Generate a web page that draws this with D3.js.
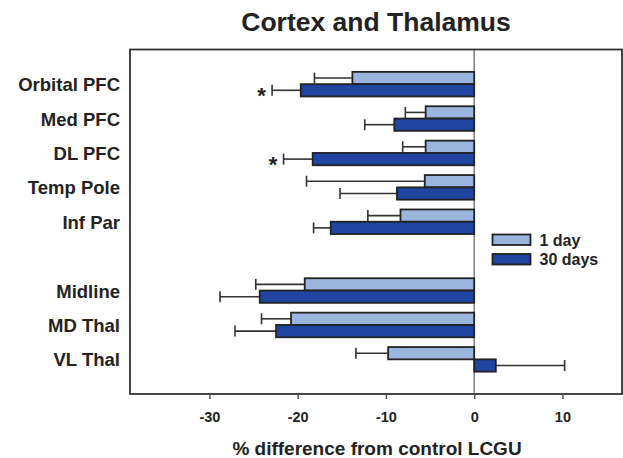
<!DOCTYPE html>
<html>
<head>
<meta charset="utf-8">
<script src="https://cdn.jsdelivr.net/npm/d3@7/dist/d3.min.js"></script>
<style>
  html, body { margin: 0; padding: 0; background: #fff; }
  svg { display: block; font-family: Arial, "Liberation Sans", Helvetica, sans-serif; }
</style>
</head>
<body>
<svg id="chart" width="623" height="458"></svg>
<script>
// ---- Data ----
const cortexRegions = ["Orbital PFC", "Med PFC", "DL PFC", "Temp Pole", "Inf Par"];
const thalamusRegions = ["Midline", "MD Thal", "VL Thal"];
const categories = cortexRegions.concat(thalamusRegions);
const seriesNames = ["1 day", "30 days"];
const day1Values = [-13.8, -5.5, -5.5, -5.6, -8.35, -19.2, -20.75, -9.75];
const day1Errors = [4.3, 2.3, 2.6, 13.4, 3.7, 5.55, 3.35, 3.65];
const day30Values = [-19.65, -9.05, -18.3, -8.75, -16.25, -24.3, -22.45, 2.45];
const day30Errors = [3.25, 3.35, 3.3, 6.45, 1.95, 4.5, 4.65, 7.8];
const day30Significant = [true, false, true, false, false, false, false, false];
const xTicks = [-30, -20, -10, 0, 10];
const xTickLabels = ["-30", "-20", "-10", "0", "10"];
const titleText = "Cortex and Thalamus";
const xAxisLabel = "% difference from control LCGU";

// ---- Layout ----
const svg = d3.select("#chart");
const plot = { left: 130, right: 622, top: 49.5, bottom: 394 };
const colors = { "1 day": "#9bb6de", "30 days": "#1f45a0" };

const x = d3.scaleLinear().domain([-39, 16.75]).range([plot.left, plot.right]);
const slots = cortexRegions.concat(["__gap__"], thalamusRegions);
const y = d3.scaleBand().domain(slots).range([plot.top, plot.bottom])
  .paddingInner(0.285).paddingOuter(0.65);
const ySub = d3.scaleBand().domain(seriesNames).range([0, y.bandwidth()]);

const rows = categories.map((c, i) => ({
  cat: c,
  series: [
    { name: "1 day", value: day1Values[i], err: day1Errors[i], sig: false },
    { name: "30 days", value: day30Values[i], err: day30Errors[i], sig: day30Significant[i] }
  ]
}));

// zero line
svg.append("line")
  .attr("x1", x(0)).attr("x2", x(0))
  .attr("y1", plot.top).attr("y2", plot.bottom)
  .attr("stroke", "#808080").attr("stroke-width", 1.5);

// bars
const g = svg.append("g");
rows.forEach(r => {
  r.series.forEach(s => {
    const y0 = y(r.cat) + ySub(s.name);
    const h = ySub.bandwidth();
    const cy = y0 + h / 2;
    const dir = s.value < 0 ? -1 : 1;
    const xe = x(s.value + dir * s.err);
    // error bar
    g.append("line")
      .attr("x1", x(s.value)).attr("x2", xe)
      .attr("y1", cy).attr("y2", cy)
      .attr("stroke", "#333").attr("stroke-width", 1.6);
    g.append("line")
      .attr("x1", xe).attr("x2", xe)
      .attr("y1", cy - 5.5).attr("y2", cy + 5.5)
      .attr("stroke", "#333").attr("stroke-width", 1.6);
    // bar
    g.append("rect")
      .attr("x", Math.min(x(0), x(s.value)))
      .attr("y", y0)
      .attr("width", Math.abs(x(s.value) - x(0)))
      .attr("height", h)
      .attr("fill", colors[s.name])
      .attr("stroke", "#222").attr("stroke-width", 1.8);
    if (s.sig) {
      g.append("text")
        .attr("x", xe - 10.5).attr("y", cy + 13)
        .attr("text-anchor", "middle")
        .attr("font-size", 22).attr("font-weight", "bold").attr("fill", "#222")
        .text("*");
    }
  });
});

// frame
svg.append("rect")
  .attr("x", plot.left).attr("y", plot.top)
  .attr("width", plot.right - plot.left).attr("height", plot.bottom - plot.top)
  .attr("fill", "none").attr("stroke", "#333").attr("stroke-width", 1.8);

// x axis
const xAxis = svg.append("g")
  .attr("transform", `translate(0,${plot.bottom})`)
  .call(d3.axisBottom(x).tickValues(xTicks).tickSize(5).tickPadding(13)
    .tickFormat((d, i) => xTickLabels[i]));
xAxis.select(".domain").remove();
xAxis.selectAll(".tick line").attr("stroke", "#555").attr("stroke-width", 1.5);
xAxis.selectAll(".tick text")
  .attr("font-size", 14.5).attr("font-weight", "bold").attr("fill", "#222")
  .attr("font-family", "Arial, 'Liberation Sans', sans-serif");

// y labels
svg.append("g").selectAll("text").data(categories).join("text")
  .attr("x", 120)
  .attr("y", d => y(d) + y.bandwidth() / 2 + 7)
  .attr("text-anchor", "end")
  .attr("font-size", 18.5).attr("font-weight", "bold").attr("fill", "#222")
  .text(d => d);

// title
svg.append("text")
  .attr("x", 376).attr("y", 30.5)
  .attr("text-anchor", "middle")
  .attr("font-size", 26.5).attr("font-weight", "bold").attr("fill", "#222")
  .text(titleText);

// x axis label
svg.append("text")
  .attr("x", 377).attr("y", 455)
  .attr("text-anchor", "middle")
  .attr("font-size", 19).attr("font-weight", "bold").attr("fill", "#222")
  .text(xAxisLabel);

// legend
const legend = svg.append("g");
seriesNames.forEach((name, i) => {
  const ly = 234.5 + i * 19.5;
  legend.append("rect")
    .attr("x", 492.5).attr("y", ly).attr("width", 38).attr("height", 10.5)
    .attr("fill", colors[name]).attr("stroke", "#222").attr("stroke-width", 1.8);
  legend.append("text")
    .attr("x", 539.5).attr("y", ly + 11)
    .attr("font-size", 16).attr("font-weight", "bold").attr("fill", "#222")
    .text(name);
});
</script>
</body>
</html>
